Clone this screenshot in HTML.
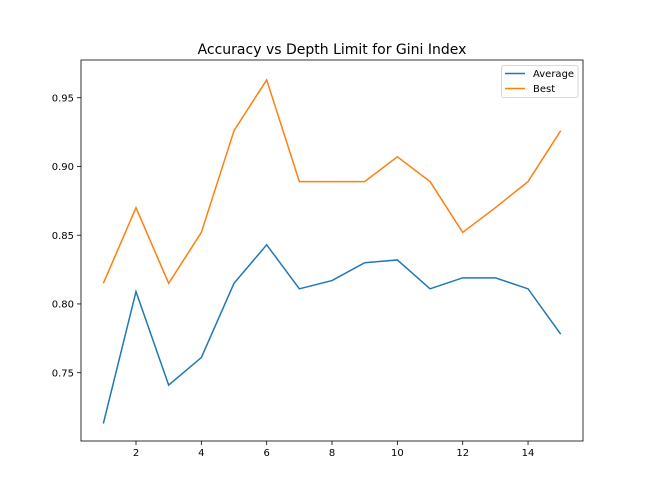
<!DOCTYPE html>
<html><head><meta charset="utf-8"><style>body{margin:0;background:#fff}svg{display:block;font-family:"DejaVu Sans","Liberation Sans",sans-serif}</style></head>
<body>
<svg id="chart" width="648" height="504"></svg>
<script>
const xValues=[1,2,3,4,5,6,7,8,9,10,11,12,13,14,15];
const averageValues=[0.713,0.809,0.741,0.761,0.815,0.843,0.811,0.817,0.830,0.832,0.811,0.819,0.819,0.811,0.778];
const bestValues=[0.815,0.870,0.815,0.852,0.926,0.963,0.889,0.889,0.889,0.907,0.889,0.852,0.870,0.889,0.926];
const xTicks=[2,4,6,8,10,12,14];
const yTicks=[0.75,0.80,0.85,0.90,0.95];
const yTickLabels=["0.75","0.80","0.85","0.90","0.95"];
const L=81,R=583,T=60,B=441;
const xs=x=>136+(x-2)*32.67;
const ys=v=>372.7-(v-0.75)*1375;
const svg=document.getElementById('chart');const NS='http://www.w3.org/2000/svg';
function mk(t,a,p){const e=document.createElementNS(NS,t);for(const k in a)e.setAttribute(k,a[k]);(p||svg).appendChild(e);return e;}
let e=mk('text',{x:332,y:54,'text-anchor':'middle','font-size':14,fill:'#000'});e.textContent='Accuracy vs Depth Limit for Gini Index';


xTicks.forEach(t=>{const x=xs(t);
 let l=mk('line',{x1:x,x2:x,y1:B,y2:B+4,stroke:'#000','stroke-width':0.8});
 
 
 let s=mk('text',{x:x,y:B+15,'text-anchor':'middle','font-size':10,fill:'#000'});s.textContent=t;
 
 });
yTicks.forEach((t,i)=>{const y=ys(t);
 let l=mk('line',{x1:L-4,x2:L,y1:y,y2:y,stroke:'#000','stroke-width':0.8});
 
 
 let s=mk('text',{x:L-7,y:y+3.6,'text-anchor':'end','font-size':10,fill:'#000'});s.textContent=yTickLabels[i];
 
 });
function line(vals,color,name){const p=mk('polyline',{points:vals.map((v,i)=>xs(xValues[i])+','+ys(v)).join(' '),fill:'none',stroke:color,'stroke-width':1.5});
 
 }
line(averageValues,'#1f77b4','average-line');
line(bestValues,'#ff7f0e','best-line');
let f=mk('rect',{x:L,y:T,width:R-L,height:B-T,fill:'none',stroke:'#000','stroke-width':0.8});


let g=mk('g',{});


mk('rect',{x:501.5,y:65.5,width:76.5,height:32,rx:2,fill:'#fff',stroke:'#ccc','stroke-width':0.8},g);
[['Average','#1f77b4',73.5],['Best','#ff7f0e',88.5]].forEach(([n,c,y])=>{
 let l=mk('line',{x1:505,x2:525,y1:y,y2:y,stroke:c,'stroke-width':1.5},g);
 
 
 let t=mk('text',{x:533,y:y+3.6,'font-size':10,fill:'#000'},g);t.textContent=n;
 
 });
</script>
</body></html>
